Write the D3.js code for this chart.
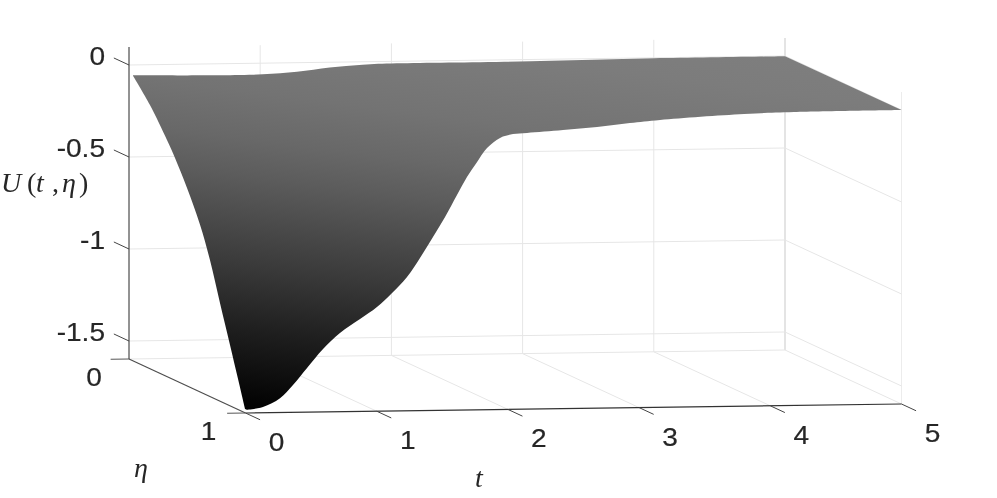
<!DOCTYPE html>
<html><head><meta charset="utf-8">
<script src="https://cdn.jsdelivr.net/npm/d3@7"></script>
<style>html,body{margin:0;padding:0;background:#fff}svg{display:block;filter:blur(0.35px)}</style>
</head><body><svg id="c" width="997" height="498"></svg>
<script>
const tTicks=[0,1,2,3,4,5];
const etaTicks=[0,1];
const uTicks=[0,-0.5,-1,-1.5];
const uTickLabels=["0","-0.5","-1","-1.5"];
const frontT=[0.01,0.133,0.263,0.362,0.469,0.591,0.72,0.873,1.002,1.117,1.231,1.33,1.429,1.521,1.612,1.688,1.764,1.841,1.94,2.039,2.146,2.42,2.68,2.93,3.16,3.8,4.18,5];
const frontU=[-1.58,-1.566,-1.52,-1.449,-1.358,-1.256,-1.17,-1.096,-1.032,-0.957,-0.871,-0.768,-0.655,-0.547,-0.429,-0.332,-0.252,-0.176,-0.122,-0.102,-0.097,-0.084,-0.07,-0.051,-0.036,-0.01,-0.003,0];
const leftEta=[0.034,0.18,0.326,0.395,0.498,0.609,0.695,0.781,0.867,0.936,0.996];
const leftU=[-0.049,-0.165,-0.312,-0.389,-0.522,-0.688,-0.856,-1.064,-1.267,-1.432,-1.577];
const backT=[0.03,0.69,1.02,1.28,1.53,1.78,2.04,3.06,4,5];
const backU=[-0.056,-0.0625,-0.06,-0.049,-0.028,-0.016,-0.011,-0.01,-0.003,-0.002];
const shadeOffset=[0,0.148,0.29,0.39,0.467,0.652,0.79,0.94,1];
const shadeGray=[128,124,115,104,92,58,30,3,0];

const svg=d3.select("#c");
const tX=d3.scaleLinear([0,5],[129,785]);
const tY=d3.scaleLinear([0,5],[0,-9]);
const etaX=d3.scaleLinear([0,1],[0,116.5]);
const etaY=d3.scaleLinear([0,1],[0,54]);
const uY=d3.scaleLinear([0,-1.5],[65,341]);
const uMin=uY.invert(359),uMax=uY.invert(47);
const P=(t,e,u)=>[tX(t)+etaX(e),uY(u)+tY(t)+etaY(e)];
const L=d3.line();
const seg=(a,b,c,w)=>svg.append("path").attr("d",L([a,b])).attr("fill","none").attr("stroke",c).attr("stroke-width",w||1);

const gridC="#e6e6e6";
tTicks.forEach(t=>{ if(t>0) seg(P(t,0,uMin),P(t,0,uMax),t===5?"#c9c9c9":gridC); });
seg(P(5,1,uMin),P(5,1,uMax),"#ececec");
uTicks.forEach(u=>{ seg(P(0,0,u),P(5,0,u),gridC); seg(P(5,0,u),P(5,1,u),gridC); });
seg(P(0,0,uMin),P(5,0,uMin),gridC);
tTicks.forEach(t=>{ if(t>0) seg(P(t,0,uMin),P(t,1,uMin),gridC); });

const defs=svg.append("defs");
const grad=defs.append("linearGradient").attr("id","shade").attr("gradientUnits","userSpaceOnUse")
 .attr("x1",0).attr("y1",-80).attr("x2",-61.4).attr("y2",392);
shadeOffset.forEach((o,i)=>grad.append("stop").attr("offset",o).attr("stop-color",d3.rgb(shadeGray[i],shadeGray[i],shadeGray[i]).formatHex()));
const curve=d3.line().curve(d3.curveCatmullRom.alpha(0.5));
const leftPts=leftEta.map((e,i)=>P(0,e,leftU[i]));
const frontPts=frontT.map((t,i)=>P(t,1,frontU[i]));
const backPts=backT.map((t,i)=>P(t,0,backU[i])).reverse();
const d=curve(leftPts)+curve(frontPts).replace(/^M/,"L")+curve(backPts).replace(/^M/,"L")+"Z";
svg.append("path").attr("d",d).attr("fill","url(#shade)");

const axC="#262626";
seg(P(0,0,uMin),P(0,0,uMax),axC);
seg(P(0,0,uMin),P(0,1,uMin),"#4d4d4d",1.2);
seg(P(0,1,uMin),P(5,1,uMin),"#333",1.2);
uTicks.forEach(u=>seg(P(0,0,u),P(0,-0.13,u),"#444"));
etaTicks.forEach(e=>seg(P(0,e,uMin),P(-0.14,e,uMin),"#555"));
tTicks.forEach(t=>seg(P(t,1,uMin),P(t,1.125,uMin),"#444"));

const txt=(x,y,s,anchor)=>svg.append("text").attr("transform",`translate(${x},${y}) scale(1.08,1)`)
 .attr("text-anchor",anchor||"middle").attr("font-family","'Liberation Sans',Arial,sans-serif")
 .attr("font-size",26).attr("fill","#262626").attr("stroke","#262626").attr("stroke-width",0.2).text(s);
uTicks.forEach((u,i)=>{const p=P(0,0,u);txt(p[0]-24,p[1],uTickLabels[i],"end");});
etaTicks.forEach(e=>{const p=P(0,e,uMin);txt(p[0]+[-35,-37][e],p[1]+27,String(e));});
tTicks.forEach(t=>{const p=P(t,1,uMin);txt(p[0]+31,p[1]+38,String(t));});

const glyph=(x,y,s,it)=>svg.append("text").attr("x",x).attr("y",y)
 .attr("font-family","'Liberation Serif',serif").attr("font-size",28).attr("font-style",it?"italic":"normal")
 .attr("fill","#262626").text(s);
const uLabel=["U","(","t",",","η",")"];
const uLabelItalic=[1,0,1,0,1,0];
const uLabelX=[1,27,36,52,62,79];
uLabel.forEach((s,i)=>glyph(uLabelX[i],192,s,uLabelItalic[i]));
glyph(134,477,"η",1);
glyph(475,487,"t",1);
</script></body></html>
